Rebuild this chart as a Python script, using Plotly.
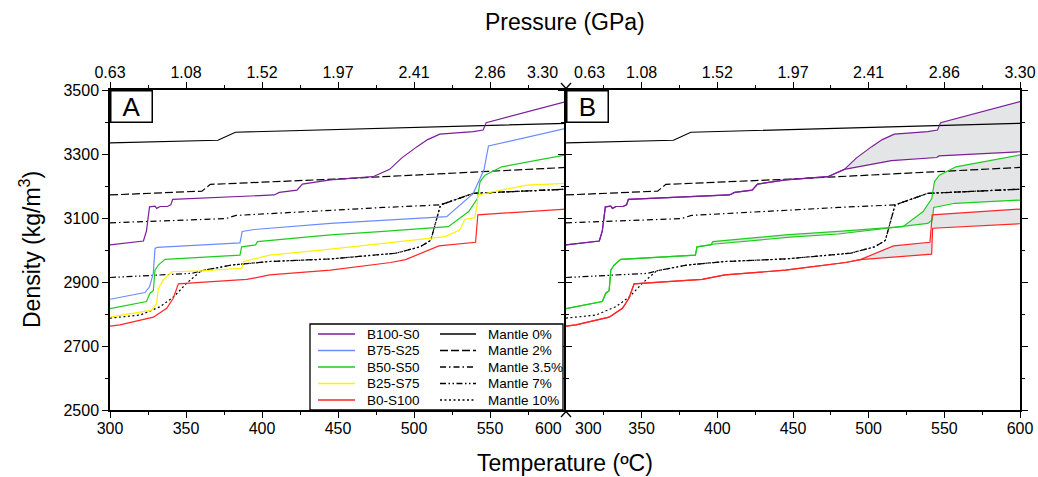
import plotly.graph_objects as go

# ---------------- axis ticks ----------------
temp_ticks = [300, 350, 400, 450, 500, 550, 600]
pressure_labels = ["0.63", "1.08", "1.52", "1.97", "2.41", "2.86", "3.30"]
dens_ticks = [2500, 2700, 2900, 3100, 3300, 3500]

# ---------------- basalt / sediment mixtures (upper branch, panel A) ----------------
b100_T = [300, 322, 324, 326, 329.6, 330.7, 333, 337.7, 340, 341.2, 408, 411.4, 423, 426.6, 445, 473, 484, 492, 502, 509, 517, 539, 545.5, 547.5, 600]
b100_D = [3016, 3028, 3060, 3135, 3137, 3130, 3136, 3136, 3141, 3158, 3172, 3180, 3187, 3206, 3219, 3229, 3252, 3288, 3323, 3345, 3362, 3370, 3375, 3398, 3464]

b75_T = [300, 323, 326, 328.5, 329.6, 331, 385.5, 387, 395, 445, 521.5, 530, 539, 546, 549, 600]
b75_D = [2846, 2867, 2885, 2927, 3005, 3008, 3022, 3058, 3064, 3083, 3104, 3138, 3177, 3250, 3325, 3380]

b50_T = [300, 324, 326.3, 328.5, 329.6, 331.8, 336.2, 385.5, 386.6, 395.8, 397, 445, 480, 522.6, 536, 541.7, 543.5, 546.7, 557.7, 600]
b50_D = [2817, 2839, 2865, 2873, 2937, 2953, 2971, 2984, 3010, 3016, 3026, 3047, 3058, 3073, 3120, 3161, 3214, 3234, 3260, 3297]

b25_T = [300, 327.4, 330.7, 331.8, 335, 340.6, 360, 386.6, 388, 405, 445, 520.4, 530, 533.5, 540, 541.5, 542, 574, 600]
b25_D = [2790, 2812, 2833, 2880, 2906, 2932, 2935, 2943, 2964, 2984, 3003, 3042, 3062, 3096, 3101, 3140, 3172, 3203, 3208]

b0_T = [300, 306.6, 328.5, 337.3, 341.6, 345, 357, 390, 405, 445, 484.7, 494.5, 516.4, 540.5, 542, 600]
b0_D = [2762, 2766, 2790, 2818, 2849, 2894, 2898, 2908, 2922, 2937, 2961, 2970, 3013, 3024, 3110, 3128]

# ---------------- lower branches (panel B) ----------------
b100_low_T = [484, 515, 545, 546.5, 600]
b100_low_D = [3252, 3279, 3289, 3294, 3307]

b50_low_T = [397, 448, 480, 539, 542, 543, 557, 600]
b50_low_D = [3018, 3040, 3050, 3083, 3094, 3133, 3146, 3156]

b0_low_T = [494.5, 541.6, 542.3, 600]
b0_low_D = [2970, 2987, 3068, 3082]

# ---------------- mantle ----------------
m0_T = [300, 371, 382.5, 600]
m0_D = [3335, 3343, 3368, 3396]

m2_T = [300, 360.5, 366, 450, 600]
m2_D = [3172, 3184, 3205, 3222, 3258]

m35_T = [300, 376, 383, 440, 480, 517.5, 539, 600]
m35_D = [3085, 3098, 3108, 3124, 3133, 3141, 3177, 3190]

m7_T = [300, 354, 360, 380, 405, 445, 488, 504, 511, 515, 517.5, 539, 600]
m7_D = [2914, 2927, 2935, 2953, 2964, 2972, 2990, 3010, 3030, 3100, 3141, 3177, 3190]

m10_T = [300, 320, 333, 342, 350.4, 360, 380, 405, 445, 488, 504, 511, 515, 517.5, 539, 600]
m10_D = [2787, 2797, 2823, 2854, 2896, 2935, 2953, 2964, 2972, 2990, 3010, 3030, 3100, 3141, 3177, 3190]

# ---------------- styles ----------------
FONT = "Liberation Sans, Arial, sans-serif"
C_PURPLE = "#7A1E9A"
C_BLUE = "#6B8BFF"
C_GREEN = "#1ECC1E"
C_YELLOW = "#FFF200"
C_RED = "#FF2626"
FILL = "#E4E5E7"
D_M2 = "8px,3px"
D_M35 = "6px,3px,1.5px,3px"
D_M7 = "6px,2.5px,1.5px,2.5px,1.5px,2.5px"
D_M10 = "2px,2.5px"

mixes = [
    ("B100-S0", b100_T, b100_D, C_PURPLE),
    ("B75-S25", b75_T, b75_D, C_BLUE),
    ("B50-S50", b50_T, b50_D, C_GREEN),
    ("B25-S75", b25_T, b25_D, C_YELLOW),
    ("B0-S100", b0_T, b0_D, C_RED),
]
mantles = [
    ("Mantle 0%", m0_T, m0_D, "solid"),
    ("Mantle 2%", m2_T, m2_D, D_M2),
    ("Mantle 3.5%", m35_T, m35_D, D_M35),
    ("Mantle 7%", m7_T, m7_D, D_M7),
    ("Mantle 10%", m10_T, m10_D, D_M10),
]

fig = go.Figure()


def add_line(T, D, color, dash, name, xa, ya, width=1.2):
    fig.add_trace(go.Scatter(
        x=T, y=D, mode="lines", name=name, xaxis=xa, yaxis=ya,
        line=dict(color=color, width=width, dash=dash),
        showlegend=False, hoverinfo="skip"))


def full_lower(upT, upD, loT, loD):
    T = [t for t in upT if t < loT[0]] + list(loT)
    D = [d for t, d in zip(upT, upD) if t < loT[0]] + list(loD)
    return T, D


# ---- panel B grey envelopes (drawn first, under the lines) ----
pairs = [
    ("B100-S0", b100_T, b100_D, b100_low_T, b100_low_D, C_PURPLE),
    ("B50-S50", b50_T, b50_D, b50_low_T, b50_low_D, C_GREEN),
    ("B0-S100", b0_T, b0_D, b0_low_T, b0_low_D, C_RED),
]
for name, upT, upD, loT, loD, col in pairs:
    fT, fD = full_lower(upT, upD, loT, loD)
    fig.add_trace(go.Scatter(x=fT, y=fD, mode="lines", line=dict(width=0),
                             xaxis="x2", yaxis="y2", showlegend=False, hoverinfo="skip"))
    fig.add_trace(go.Scatter(x=upT, y=upD, mode="lines", line=dict(width=0),
                             fill="tonexty", fillcolor=FILL,
                             xaxis="x2", yaxis="y2", showlegend=False, hoverinfo="skip"))

# ---- panel A ----
for name, T, D, dash in mantles:
    add_line(T, D, "black", dash, name, "x", "y")
for name, T, D, col in mixes:
    add_line(T, D, col, "solid", name, "x", "y")

# ---- panel B ----
for name, T, D, dash in mantles:
    add_line(T, D, "black", dash, name, "x2", "y2")
for name, upT, upD, loT, loD, col in pairs:
    fT, fD = full_lower(upT, upD, loT, loD)
    add_line(fT, fD, col, "solid", name + " (lower)", "x2", "y2")
    add_line(upT, upD, col, "solid", name, "x2", "y2")

# invisible carriers so the extra axes (top pressure axes, inner tick axis) are drawn
for xa, ya in [("x3", "y"), ("x4", "y2"), ("x2", "y3")]:
    fig.add_trace(go.Scatter(x=[temp_ticks[0], temp_ticks[-1]], y=[dens_ticks[0], dens_ticks[0]],
                             mode="lines", line=dict(width=0), opacity=0,
                             xaxis=xa, yaxis=ya, showlegend=False, hoverinfo="skip"))

# ---------------- layout ----------------
W, H = 1038, 477
ML, MR, MT, MB = 110, 18, 90, 67
PW = W - ML - MR  # 910
PH = H - MT - MB  # 320
split = 456 / PW


def px2x(p):
    return (p - ML) / PW


def px2y(p):
    return (MT + PH - p) / PH


tickfont = dict(family=FONT, size=16, color="black")
minor_x = dict(ticks="outside", ticklen=3, tickwidth=1.2, tickcolor="black",
               tickmode="linear", tick0=325, dtick=50)
xcommon = dict(range=[300, 600], showgrid=False, zeroline=False, showline=True, automargin=False,
               linecolor="black", linewidth=1.5, ticks="outside", ticklen=6,
               tickwidth=1.2, tickcolor="black", tickangle=0, tickfont=tickfont,
               tickmode="array", minor=minor_x)
ycommon = dict(range=[2500, 3500], showgrid=False, zeroline=False, showline=True, automargin=False,
               linecolor="black", linewidth=1.5, ticks="outside", ticklen=6,
               tickwidth=1.2, tickcolor="black", tickfont=tickfont,
               tickmode="array", tickvals=dens_ticks,
               minor=dict(ticks="outside", ticklen=3, tickwidth=1.2, tickcolor="black",
                          tickmode="linear", tick0=2600, dtick=200))

temp_labels = [str(t) for t in temp_ticks]

fig.update_layout(
    width=W, height=H, autosize=False,
    margin=dict(l=ML, r=MR, t=MT, b=MB, autoexpand=False),
    paper_bgcolor="white", plot_bgcolor="white",
    font=dict(family=FONT, size=16, color="black"),
    showlegend=False,
    xaxis=dict(xcommon, domain=[0, split], anchor="y", ticklabelstandoff=-3,
               tickvals=temp_ticks[:-1], ticktext=temp_labels[:-1]),
    xaxis2=dict(xcommon, domain=[split, 1], anchor="y2", ticklabelstandoff=-3,
                tickvals=temp_ticks[1:], ticktext=temp_labels[1:]),
    xaxis3=dict(xcommon, overlaying="x", side="top", anchor="y", ticklabelstandoff=-2,
                tickvals=temp_ticks[:-1], ticktext=pressure_labels[:-1]),
    xaxis4=dict(xcommon, overlaying="x2", side="top", anchor="y2", ticklabelstandoff=-2,
                tickvals=temp_ticks[1:], ticktext=pressure_labels[1:]),
    yaxis=dict(ycommon, domain=[0, 1], anchor="x", mirror=False),
    yaxis2=dict(ycommon, domain=[0, 1], anchor="x2", showticklabels=False, mirror="ticks"),
    yaxis3=dict(ycommon, overlaying="y2", side="left", anchor="x2", showline=False,
                showticklabels=False, ticks="inside", ticklen=6,
                minor=dict(ticks="inside", ticklen=3, tickwidth=1.2, tickcolor="black",
                           tickmode="linear", tick0=2600, dtick=200)),
)

# end labels at the shared border (offset away from the break, as in the original)
end_labels = [
    (temp_labels[-1], 548, 428),       # panel A, bottom, 600
    (temp_labels[0], 588, 428),        # panel B, bottom, 300
    (pressure_labels[-1], 542, 73),    # panel A, top, 3.30
    (pressure_labels[0], 589, 73),     # panel B, top, 0.63
]
for txt, xp, yp in end_labels:
    fig.add_annotation(text=txt, xref="paper", yref="paper", x=px2x(xp), y=px2y(yp),
                       xanchor="center", yanchor="middle", showarrow=False,
                       font=tickfont)

# ---------------- legend (frame, samples, labels) ----------------
fig.add_shape(type="rect", xref="paper", yref="paper",
              x0=px2x(310), x1=px2x(563), y0=0, y1=px2y(324),
              line=dict(color="black", width=1.3), fillcolor="white", layer="above")
rows = [334, 350.5, 367, 383.5, 400]
for (name, T, D, col), ry in zip(mixes, rows):
    fig.add_shape(type="line", xref="paper", yref="paper", x0=px2x(318), x1=px2x(355),
                  y0=px2y(ry), y1=px2y(ry), line=dict(color=col, width=1.5), layer="above")
    fig.add_annotation(text=name, xref="paper", yref="paper", x=px2x(365), y=px2y(ry),
                       xanchor="left", yanchor="middle", showarrow=False,
                       font=dict(family=FONT, size=13.5, color="black"))
for (name, T, D, dash), ry in zip(mantles, rows):
    fig.add_shape(type="line", xref="paper", yref="paper", x0=px2x(440), x1=px2x(476),
                  y0=px2y(ry), y1=px2y(ry), line=dict(color="black", width=1.3, dash=dash),
                  layer="above")
    fig.add_annotation(text=name, xref="paper", yref="paper", x=px2x(486), y=px2y(ry),
                       xanchor="left", yanchor="middle", showarrow=False,
                       font=dict(family=FONT, size=13.5, color="black"))

# panel labels
for lab, xr, yr in [("A", "x domain", "y domain"), ("B", "x2 domain", "y2 domain")]:
    fig.add_annotation(text=lab, xref=xr, yref=yr, x=0, y=1, xanchor="left", yanchor="top",
                       showarrow=False, font=dict(family=FONT, size=26, color="black"),
                       bordercolor="black", borderwidth=1.5, bgcolor="white",
                       width=38, height=28, borderpad=1)

# axis titles
fig.add_annotation(text="Pressure (GPa)", xref="paper", yref="paper", x=0.5, y=px2y(22),
                   xanchor="center", yanchor="middle", showarrow=False,
                   font=dict(family=FONT, size=23, color="black"))
fig.add_annotation(text="Temperature (ºC)", xref="paper", yref="paper", x=0.5, y=px2y(463),
                   xanchor="center", yanchor="middle", showarrow=False,
                   font=dict(family=FONT, size=23, color="black"))
fig.add_annotation(text="Density (kg/m<sup>3</sup>)", xref="paper", yref="paper", x=px2x(30), y=0.5,
                   xanchor="center", yanchor="middle", showarrow=False, textangle=-90,
                   font=dict(family=FONT, size=23, color="black"))

# axis-break marks at the shared border
pxu = 1 / PW
pyu = 1 / PH
for (x0, y0, x1, y1) in [(-5, 7, 0, 1.5), (5, 7, 0, 1.5), (0, 1.5, 0, 0)]:
    fig.add_shape(type="line", xref="paper", yref="paper",
                  x0=split + x0 * pxu, y0=1 + y0 * pyu, x1=split + x1 * pxu, y1=1 + y1 * pyu,
                  line=dict(color="black", width=1.3))
    fig.add_shape(type="line", xref="paper", yref="paper",
                  x0=split + x0 * pxu, y0=-y0 * pyu, x1=split + x1 * pxu, y1=-y1 * pyu,
                  line=dict(color="black", width=1.3))

fig.write_html("out.html",
               config={"displayModeBar": False, "responsive": False},
               post_script="document.body.style.margin='0';document.body.style.overflow='hidden';")
